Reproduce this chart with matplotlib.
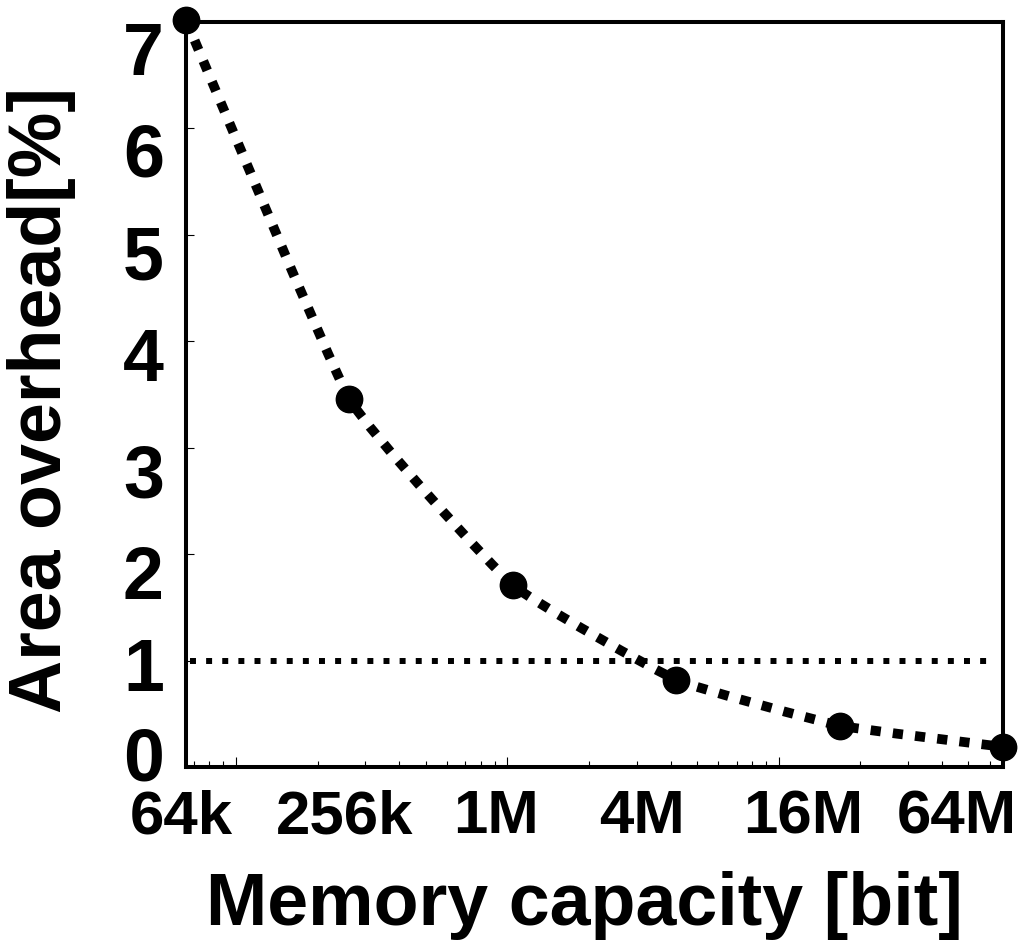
import numpy as np
import matplotlib
matplotlib.use('Agg')
import matplotlib.pyplot as plt
from matplotlib.path import Path
from matplotlib.patches import PathPatch
from matplotlib.transforms import ScaledTranslation
from matplotlib.ticker import LogLocator, NullFormatter

# ---- data ----
capacity_bits = [2**16, 2**18, 2**20, 2**22, 2**24, 2**26]
capacity_labels = ['64k', '256k', '1M', '4M', '16M', '64M']
area_overhead = [7.02, 3.46, 1.71, 0.82, 0.39, 0.19]
threshold = 1.0
y_ticks = [0, 1, 2, 3, 4, 5, 6, 7]

plt.rcParams['font.family'] = ['Liberation Sans', 'DejaVu Sans']
plt.rcParams['font.weight'] = 'bold'

fig = plt.figure(figsize=(10.18, 9.47), dpi=100)
ax = fig.add_axes([0.1827, 0.190, 0.8026, 0.7868])

ax.set_xscale('log')
ax.set_xlim(capacity_bits[0], capacity_bits[-1])
ax.set_ylim(0, 7)

# lightly smoothed connecting curve, Bezier path in (log x, y)
smooth = 0.06
lx = np.log10(np.array(capacity_bits, dtype=float))
yy = np.array(area_overhead, dtype=float)
pts = np.column_stack([lx, yy])
n = len(pts)
verts = [pts[0]]
codes = [Path.MOVETO]
for i in range(n - 1):
    p0 = pts[i - 1] if i > 0 else pts[i]
    p1 = pts[i]
    p2 = pts[i + 1]
    p3 = pts[i + 2] if i + 2 < n else pts[i + 1]
    c1 = p1 + (p2 - p0) * smooth
    c2 = p2 - (p3 - p1) * smooth
    verts += [c1, c2, p2]
    codes += [Path.CURVE4] * 3
verts = np.array(verts)
verts[:, 0] = 10 ** verts[:, 0]
patch = PathPatch(Path(verts, codes), fill=False, edgecolor='black', lw=7,
                  linestyle=(0, (1.05, 1.25)), capstyle='butt', clip_on=False, zorder=3)
ax.add_patch(patch)

ax.plot(capacity_bits, area_overhead, 'o', ms=19, color='black', clip_on=False, zorder=5)

ax.axhline(threshold, xmin=0.005, xmax=0.985, lw=4.3, color='black',
           linestyle=(0, (1.0, 1.7)), zorder=2)

for s in ax.spines.values():
    s.set_linewidth(2.9)

ax.xaxis.set_major_locator(LogLocator(base=10))
ax.xaxis.set_minor_locator(LogLocator(base=10, subs=np.arange(2, 10)))
ax.xaxis.set_major_formatter(NullFormatter())
ax.xaxis.set_minor_formatter(NullFormatter())
ax.tick_params(axis='x', which='major', direction='in', length=7, width=0.8)
ax.tick_params(axis='x', which='minor', direction='in', length=4, width=0.8)

ax.set_yticks(y_ticks)
ax.set_yticklabels([str(v) for v in y_ticks])
ax.tick_params(axis='y', which='major', direction='in', length=6, width=0.8,
               labelsize=53, pad=16)
y_label_shift_px = [-14, 3, 18, 23, 13, 18, 21, 26]   # downward shift of each label
for lab, dy in zip(ax.get_yticklabels(), y_label_shift_px):
    lab.set_fontweight('bold')
    lab.set_transform(lab.get_transform() + ScaledTranslation(0, -dy / 100, fig.dpi_scale_trans))

x_offsets_px = [-5, -5, -17, -34, -36, -46]
for xv, lab, dx in zip(capacity_bits, capacity_labels, x_offsets_px):
    tr = ax.get_xaxis_transform() + ScaledTranslation(dx / 100, -66 / 100, fig.dpi_scale_trans)
    ax.text(xv, 0, lab, transform=tr, ha='center', va='baseline',
            fontsize=44.5, fontweight='bold', clip_on=False)

fig.text(584 / 1018, 1 - 925 / 947, 'Memory capacity [bit]', ha='center', va='baseline',
         fontsize=53, fontweight='bold')
fig.text(42 / 1018, 1 - 400 / 947, 'Area overhead[%]', ha='center', va='center',
         rotation=90, fontsize=53, fontweight='bold')

fig.savefig('out.png', dpi=100)
